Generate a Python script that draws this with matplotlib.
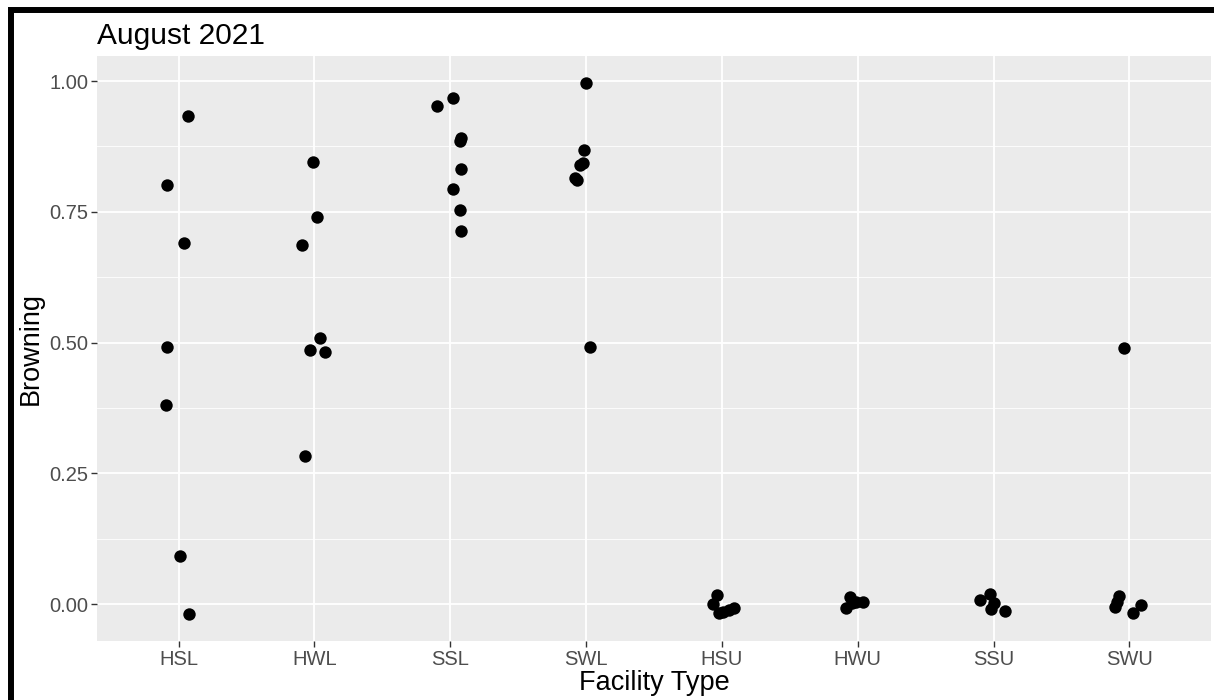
import matplotlib
matplotlib.use("Agg")
import matplotlib.pyplot as plt
from matplotlib.patches import Rectangle
from matplotlib.ticker import MultipleLocator
import numpy as np

plt.rcParams["font.family"] = ["Liberation Sans", "DejaVu Sans"]

# facility types in axis order
categories = ["HSL", "HWL", "SSL", "SWL", "HSU", "HWU", "SSU", "SWU"]

# browning values, one list per facility type
browning = {
    "HSL": [0.934, 0.802, 0.691, 0.491, 0.381, 0.092, -0.019],
    "HWL": [0.846, 0.740, 0.687, 0.509, 0.486, 0.481, 0.283],
    "SSL": [0.968, 0.953, 0.891, 0.885, 0.832, 0.793, 0.753, 0.713],
    "SWL": [0.997, 0.868, 0.844, 0.839, 0.815, 0.811, 0.491],
    "HSU": [0.017, 0.000, -0.018, -0.016, -0.012, -0.008],
    "HWU": [0.014, 0.001, -0.008, 0.004, 0.004],
    "SSU": [0.008, 0.020, 0.001, -0.010, -0.013],
    "SWU": [0.489, 0.015, 0.004, -0.006, -0.002, -0.017],
}

# horizontal jitter (in category units) as seen in the picture
jitter = {
    "HSL": [0.068, -0.088, 0.039, -0.088, -0.093, 0.010, 0.073],
    "HWL": [-0.013, 0.020, -0.093, 0.040, -0.030, 0.080, -0.070],
    "SSL": [0.017, -0.100, 0.080, 0.075, 0.080, 0.017, 0.075, 0.080],
    "SWL": [0.000, -0.013, -0.020, -0.045, -0.085, -0.065, 0.030],
    "HSU": [-0.037, -0.066, -0.025, 0.010, 0.050, 0.090],
    "HWU": [-0.060, -0.045, -0.085, -0.013, 0.040],
    "SSU": [-0.100, -0.025, 0.000, -0.017, 0.086],
    "SWU": [-0.037, -0.075, -0.090, -0.105, 0.084, 0.030],
}

y_ticks = [0.00, 0.25, 0.50, 0.75, 1.00]

W, H = 1214, 700
fig = plt.figure(figsize=(W / 100, H / 100), dpi=100)
ax = fig.add_axes([97.2 / W, 1 - 641 / H, (1210.8 - 97.2) / W, (641 - 56) / H])

ax.set_facecolor("#EBEBEB")
for s in ax.spines.values():
    s.set_visible(False)

for i, cat in enumerate(categories):
    xs = i + np.array(jitter[cat])
    ax.scatter(xs, browning[cat], s=80, color="black", linewidths=0, zorder=3)

ax.set_xlim(-0.6, 7.6)
ax.set_ylim(-0.0707, 1.0478)
ax.set_xticks(range(len(categories)))
ax.set_xticklabels(categories)
ax.set_yticks(y_ticks)
ax.set_yticklabels([f"{v:.2f}" for v in y_ticks])
ax.yaxis.set_minor_locator(MultipleLocator(0.125))

ax.grid(which="major", color="white", linewidth=1.3, zorder=0)
ax.grid(which="minor", axis="y", color="white", linewidth=0.6, zorder=0)
ax.set_axisbelow(True)

ax.tick_params(axis="both", which="major", length=4, width=1, color="#333333",
               labelcolor="#4D4D4D", labelsize=14.5, pad=2.5)
ax.tick_params(axis="both", which="minor", length=0)

ax.set_xlabel("Facility Type", fontsize=19.5, color="black", labelpad=1)
ax.set_ylabel("Browning", fontsize=19.5, color="black", labelpad=4)
ax.set_title("August 2021", loc="left", fontsize=21.5, color="black", pad=9)

# black frame visible on left and top edges
fig.add_artist(Rectangle((11 / W, -0.2), 2, 1 - 10 / H + 0.2, transform=fig.transFigure,
                         fill=False, edgecolor="black", linewidth=4.3, clip_on=False))

fig.savefig("out.png", dpi=100)
